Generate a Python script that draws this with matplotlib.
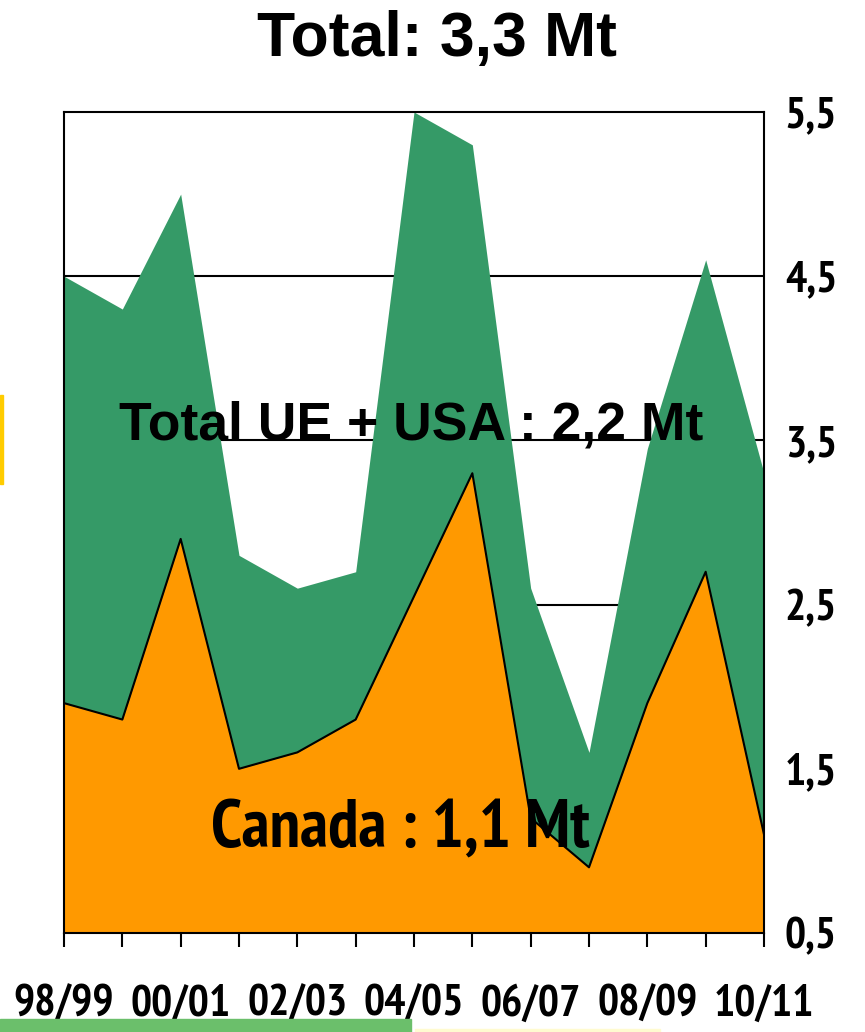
import matplotlib
matplotlib.use('Agg')
import matplotlib.pyplot as plt
import numpy as np
from matplotlib.patches import Rectangle

campagnes = ['98/99', '99/00', '00/01', '01/02', '02/03', '03/04', '04/05',
             '05/06', '06/07', '07/08', '08/09', '09/10', '10/11']
canada = [1.9, 1.8, 2.9, 1.5, 1.6, 1.8, 2.55, 3.3, 1.2, 0.9, 1.9, 2.7, 1.1]
total = [4.5, 4.3, 5.0, 2.8, 2.6, 2.7, 5.5, 5.3, 2.6, 1.6, 3.45, 4.6, 3.3]
y_ticks = [0.5, 1.5, 2.5, 3.5, 4.5, 5.5]

VERT = '#359A67'
ORANGE = '#FF9900'
NARROW = ['PT Sans Narrow', 'DejaVu Sans']
ARIAL = ['Liberation Sans', 'DejaVu Sans']

x = np.arange(len(campagnes))

fig = plt.figure(figsize=(8.65, 10.32), dpi=100)
ax = fig.add_axes([64 / 865, 1 - 933 / 1032, 700 / 865, 821 / 1032])

# grille derriere les aires
for v in [2.5, 3.5, 4.5]:
    ax.axhline(v, color='black', linewidth=1.5, zorder=0)

ax.fill_between(x, 0.5, total, color=VERT, linewidth=0, zorder=1)
ax.fill_between(x, 0.5, canada, color=ORANGE, linewidth=0, zorder=2)
ax.plot(x, canada, color='black', linewidth=1.5, zorder=3)

ax.set_xlim(0, len(x) - 1)
ax.set_ylim(0.5, 5.5)

for s in ax.spines.values():
    s.set_linewidth(1.5)
    s.set_color('black')

ax.set_xticks(x)
ax.set_xticklabels([c if i % 2 == 0 else '' for i, c in enumerate(campagnes)],
                   fontsize=32, fontweight='bold', family=NARROW)
ax.tick_params(axis='x', direction='out', length=10, width=1.5, pad=27)

ax.yaxis.tick_right()
ax.set_yticks(y_ticks)
ax.set_yticklabels([str(v).replace('.', ',') for v in y_ticks],
                   fontsize=32, fontweight='bold', family=NARROW)
ax.tick_params(axis='y', length=0, pad=15)

ax.text(5.95, 3.59, 'Total UE + USA : 2,2 Mt', fontsize=38.5, fontweight='bold',
        family=ARIAL, ha='center', va='center', zorder=5)
ax.text(5.76, 1.13, 'Canada : 1,1 Mt', fontsize=49, fontweight='bold',
        family=NARROW, ha='center', va='center', zorder=5)

fig.text(437 / 865, 1 - 40 / 1032, 'Total: 3,3 Mt', fontsize=45, fontweight='bold',
         family=ARIAL, ha='center', va='center')

# restes de la diapositive
fig.patches.append(Rectangle((0, 1 - 484 / 1032), 3 / 865, 89 / 1032,
                             transform=fig.transFigure, color='#FFCC00'))
fig.patches.append(Rectangle((0, 0), 411 / 865, 13 / 1032,
                             transform=fig.transFigure, color='#6BBF6B'))
fig.patches.append(Rectangle((415 / 865, 0), 245 / 865, 3 / 1032,
                             transform=fig.transFigure, color='#FFFBD0'))

fig.savefig('out.png', dpi=100)
